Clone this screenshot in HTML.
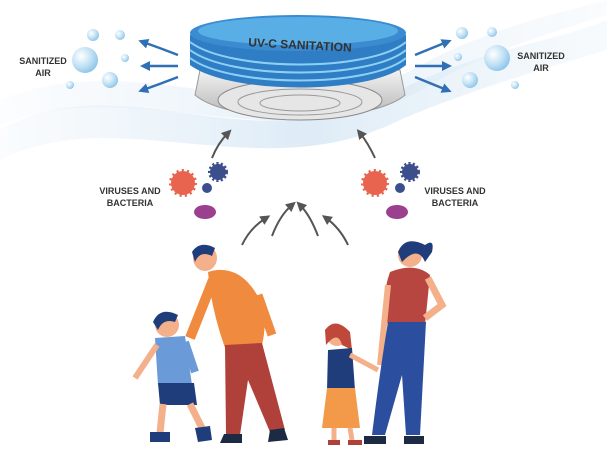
<!DOCTYPE html>
<html><head><meta charset="utf-8"><style>
html,body{margin:0;padding:0;background:#fff;}
svg{display:block;}
text{font-family:"Liberation Sans",sans-serif;font-weight:bold;fill:#333;}
</style></head><body>
<svg width="607" height="460" viewBox="0 0 607 460" xmlns="http://www.w3.org/2000/svg">
<defs>
<linearGradient id="sw" x1="0" x2="1"><stop offset="0" stop-color="#dbeaf5" stop-opacity="0.2"/><stop offset="0.5" stop-color="#cfe3f3"/><stop offset="1" stop-color="#dbeaf5" stop-opacity="0.3"/></linearGradient>
<radialGradient id="bub" cx="0.35" cy="0.35" r="0.7"><stop offset="0" stop-color="#ffffff"/><stop offset="0.6" stop-color="#bfe0f4"/><stop offset="1" stop-color="#8cc5e8"/></radialGradient>
<linearGradient id="base" x1="0" y1="0" x2="0" y2="1"><stop offset="0" stop-color="#f2f2f2"/><stop offset="1" stop-color="#b5b5b5"/></linearGradient>
<marker id="ga" markerUnits="userSpaceOnUse" markerWidth="10" markerHeight="10" refX="5" refY="5" orient="auto"><path d="M0,0 L10,5 L0,10 z" fill="#555"/></marker>
<marker id="ba" markerUnits="userSpaceOnUse" markerWidth="10" markerHeight="10" refX="5" refY="5" orient="auto"><path d="M0,0 L10,5 L0,10 z" fill="#2f6fb5"/></marker>
</defs>
<path d="M0,130 C120,60 250,170 400,90 C480,50 560,40 607,20 L607,50 C540,70 470,90 400,120 C260,190 120,100 0,160 Z" fill="url(#sw)" opacity="0.7"/>
<path d="M0,100 C150,40 280,150 430,60 C500,25 570,10 607,0 L607,15 C560,30 490,50 430,85 C290,170 140,70 0,125 Z" fill="url(#sw)" opacity="0.5"/>
<!-- device -->
<path d="M200,70 L195,95 C230,125 370,125 405,95 L400,70 Z" fill="url(#base)" stroke="#999"/>
<ellipse cx="300" cy="100" rx="82" ry="20" fill="#e6e6e6" stroke="#888"/>
<ellipse cx="300" cy="102" rx="62" ry="13" fill="none" stroke="#999"/>
<ellipse cx="300" cy="103" rx="40" ry="8" fill="none" stroke="#999"/>
<path d="M190,35 L190,65 C230,95 370,95 406,65 L406,35 Z" fill="#2f7dc4"/>
<g stroke="#8ed0f5" stroke-width="2" fill="none">
<path d="M190,42 C230,72 370,72 406,42"/><path d="M190,50 C230,80 370,80 406,50"/><path d="M190,58 C230,88 370,88 406,58"/>
</g>
<ellipse cx="298" cy="33" rx="108" ry="18" fill="#3a8bd0"/>
<ellipse cx="298" cy="31" rx="100" ry="14" fill="#5aaee6"/>
<text x="300" y="49" font-size="12" text-anchor="middle" fill="#1a2a3a" transform="rotate(3 300 45)">UV-C SANITATION</text>
<g stroke="#2f6fb5" stroke-width="2.5" fill="none" marker-end="url(#ba)">
<path d="M178,55 Q160,48 143,42"/><path d="M178,66 L145,66"/><path d="M178,77 Q160,84 143,90"/>
<path d="M415,55 Q432,48 447,42"/><path d="M415,66 L447,66"/><path d="M415,77 Q432,84 447,90"/>
</g>
<g fill="url(#bub)">
<circle cx="85" cy="60" r="13"/><circle cx="110" cy="80" r="8"/><circle cx="93" cy="35" r="6"/><circle cx="120" cy="35" r="5"/><circle cx="70" cy="85" r="4"/><circle cx="125" cy="58" r="4"/>
<circle cx="497" cy="58" r="13"/><circle cx="470" cy="80" r="8"/><circle cx="462" cy="33" r="6"/><circle cx="492" cy="32" r="5"/><circle cx="515" cy="85" r="4"/><circle cx="458" cy="57" r="4"/>
</g>
<text x="43" y="64" font-size="9" text-anchor="middle">SANITIZED</text><text x="43" y="76" font-size="9" text-anchor="middle">AIR</text>
<text x="541" y="59" font-size="9" text-anchor="middle">SANITIZED</text><text x="541" y="71" font-size="9" text-anchor="middle">AIR</text>
<g>
<circle cx="183" cy="183" r="12" fill="#e8644f" stroke="#e8644f" stroke-width="4" stroke-dasharray="2 3"/><circle cx="183" cy="183" r="10" fill="#e8644f"/>
<circle cx="218" cy="172" r="8" fill="#3b4f8c" stroke="#3b4f8c" stroke-width="4" stroke-dasharray="2 2"/>
<circle cx="207" cy="188" r="5" fill="#3b4f8c"/>
<ellipse cx="205" cy="212" rx="11" ry="7" fill="#9b3f8f"/>
<circle cx="375" cy="183" r="12" fill="#e8644f" stroke="#e8644f" stroke-width="4" stroke-dasharray="2 3"/><circle cx="375" cy="183" r="10" fill="#e8644f"/>
<circle cx="410" cy="172" r="8" fill="#3b4f8c" stroke="#3b4f8c" stroke-width="4" stroke-dasharray="2 2"/>
<circle cx="400" cy="188" r="5" fill="#3b4f8c"/>
<ellipse cx="397" cy="212" rx="11" ry="7" fill="#9b3f8f"/>
</g>
<text x="130" y="194" font-size="9" text-anchor="middle">VIRUSES AND</text><text x="130" y="206" font-size="9" text-anchor="middle">BACTERIA</text>
<text x="455" y="194" font-size="9" text-anchor="middle">VIRUSES AND</text><text x="455" y="206" font-size="9" text-anchor="middle">BACTERIA</text>
<g stroke="#555" stroke-width="2" fill="none" marker-end="url(#ga)">
<path d="M212,158 Q218,143 228,133"/><path d="M375,158 Q368,143 360,133"/>
<path d="M242,245 Q250,228 266,218"/><path d="M272,236 Q280,215 292,205"/><path d="M318,236 Q310,215 300,205"/><path d="M348,245 Q340,228 326,218"/>
</g>
<!-- man -->
<ellipse cx="205" cy="258" rx="12" ry="13" fill="#f3b08a"/>
<path d="M192,252 Q200,240 215,248 L212,256 Q200,250 195,262 Z" fill="#1f3d7a"/>
<path d="M208,272 Q240,262 260,300 Q268,320 262,345 L225,348 Q215,320 210,290 Z" fill="#f08a3e"/>
<path d="M213,280 L190,338" stroke="#f08a3e" stroke-width="10"/>
<path d="M258,295 L272,335" stroke="#f08a3e" stroke-width="9"/>
<path d="M225,345 L262,343 L285,430 L270,432 L248,380 L240,435 L226,435 Z" fill="#b0413a"/>
<path d="M224,434 L242,434 L242,443 L220,443 Z" fill="#1d2a44"/><path d="M270,430 L284,428 L288,440 L268,442 Z" fill="#1d2a44"/>
<!-- boy -->
<circle cx="167" cy="325" r="12" fill="#f3b08a"/>
<path d="M153,322 Q160,306 178,315 L175,322 Q163,318 158,330 Z" fill="#1f3d7a"/>
<path d="M155,338 L185,336 L192,385 L158,385 Z" fill="#6a9ad8"/>
<path d="M157,345 L135,378" stroke="#f3b08a" stroke-width="6"/><path d="M185,342 L195,372" stroke="#6a9ad8" stroke-width="8"/>
<path d="M158,383 L194,383 L197,405 L160,405 Z" fill="#1f3d7a"/>
<path d="M163,404 L160,433 M190,404 L203,430" stroke="#f3b08a" stroke-width="7"/>
<path d="M150,432 L170,432 L170,442 L150,442 Z" fill="#1f3d7a"/><path d="M195,428 L210,426 L212,440 L198,442 Z" fill="#1f3d7a"/>
<!-- girl -->
<circle cx="337" cy="336" r="10" fill="#f3b08a"/>
<path d="M325,330 Q335,316 350,332 L352,350 L342,345 Q338,330 326,345 Z" fill="#c0483a"/>
<path d="M328,350 L352,348 L355,390 L327,390 Z" fill="#1f3d7a"/>
<path d="M350,355 L378,370" stroke="#f3b08a" stroke-width="5"/>
<path d="M327,388 L355,388 L360,428 L322,428 Z" fill="#f29a4a"/>
<path d="M334,428 L334,440 M350,428 L352,440" stroke="#f3b08a" stroke-width="5"/>
<path d="M328,440 L340,440 L340,445 L328,445 Z M348,440 L362,440 L362,445 L348,445 Z" fill="#b0413a"/>
<!-- woman -->
<circle cx="410" cy="255" r="12" fill="#f3b08a"/>
<path d="M398,252 Q405,235 425,245 Q435,238 432,252 L425,262 Q418,245 402,262 Z" fill="#1f3d7a"/>
<path d="M390,272 Q415,262 430,275 L425,325 L388,325 Q380,300 390,272 Z" fill="#b84640"/>
<path d="M428,278 L442,305 L425,318" stroke="#f3b08a" stroke-width="7" fill="none"/>
<path d="M388,285 L380,365" stroke="#f3b08a" stroke-width="6"/>
<path d="M388,322 L426,322 L420,435 L406,435 L402,375 L385,435 L372,435 Q380,370 388,322 Z" fill="#2b4f9e"/>
<path d="M364,436 L386,436 L386,444 L364,444 Z M404,436 L424,436 L424,444 L404,444 Z" fill="#1d2a44"/>
</svg>
</body></html>
